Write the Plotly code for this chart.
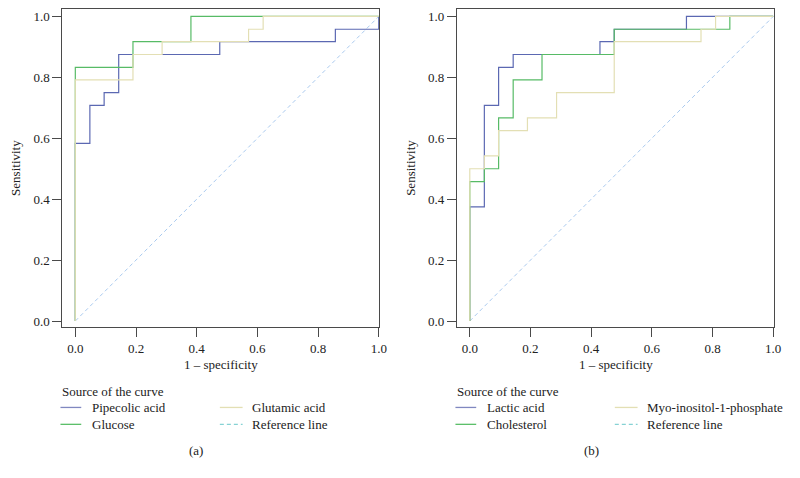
import plotly.graph_objects as go

# ---------- data (ROC operating points) ----------
names_a = ["Pipecolic acid", "Glucose", "Glutamic acid"]
fpr_pipecolic = [0.0, 0.0, 0.048, 0.095, 0.143, 0.476, 0.857, 1.0]
tpr_pipecolic = [0.0, 0.583, 0.708, 0.750, 0.875, 0.917, 0.958, 1.0]
fpr_glucose = [0.0, 0.0, 0.190, 0.381, 1.0]
tpr_glucose = [0.0, 0.833, 0.917, 1.0, 1.0]
fpr_glutamic = [0.0, 0.0, 0.190, 0.286, 0.571, 0.619, 1.0]
tpr_glutamic = [0.0, 0.792, 0.875, 0.917, 0.958, 1.0, 1.0]

names_b = ["Lactic acid", "Cholesterol", "Myo-inositol-1-phosphate"]
fpr_lactic = [0.0, 0.0, 0.048, 0.095, 0.143, 0.429, 0.476, 0.714, 1.0]
tpr_lactic = [0.0, 0.375, 0.708, 0.833, 0.875, 0.917, 0.958, 1.0, 1.0]
fpr_chol = [0.0, 0.0, 0.048, 0.095, 0.143, 0.238, 0.476, 0.857, 1.0]
tpr_chol = [0.0, 0.458, 0.500, 0.667, 0.792, 0.875, 0.958, 1.0, 1.0]
fpr_myo = [0.0, 0.0, 0.048, 0.095, 0.190, 0.286, 0.476, 0.762, 0.810, 1.0]
tpr_myo = [0.0, 0.500, 0.542, 0.625, 0.667, 0.750, 0.917, 0.958, 1.0, 1.0]

ref_x = [0.0, 1.0]
ref_y = [0.0, 1.0]
ref_name = "Reference line"

tick_vals = [0.0, 0.2, 0.4, 0.6, 0.8, 1.0]
tick_text = ["0.0", "0.2", "0.4", "0.6", "0.8", "1.0"]

# ---------- style ----------
PAGE_OFF = 8            # default body margin of the html page
W, H = 800 - PAGE_OFF, 478 - PAGE_OFF
FONT = "Liberation Serif"
FS = 13
TXT = "#222222"
C_BLUE = "#5b68b2"
C_GREEN = "#57bb66"
C_YEL = "#e3dfb4"
C_REF = "#a9c9ee"
C_REF_LEG = "#86d2d4"
LEG_BLUE = "#8088c0"
LEG_GREEN = "#5cbf6a"

def px(x):
    return (x - PAGE_OFF) / W

def py(y):
    return 1 - (y - PAGE_OFF) / H

fig = go.Figure()

panels = [
    ("x", "y", [(fpr_pipecolic, tpr_pipecolic, C_BLUE),
                (fpr_glucose, tpr_glucose, C_GREEN),
                (fpr_glutamic, tpr_glutamic, C_YEL)]),
    ("x2", "y2", [(fpr_lactic, tpr_lactic, C_BLUE),
                  (fpr_chol, tpr_chol, C_GREEN),
                  (fpr_myo, tpr_myo, C_YEL)]),
]
for xa, ya, series in panels:
    fig.add_trace(go.Scatter(x=ref_x, y=ref_y, mode="lines", xaxis=xa, yaxis=ya,
                             line=dict(color=C_REF, width=1, dash="4px,3px"),
                             showlegend=False, hoverinfo="skip"))
    for fx, ty, col in series:
        fig.add_trace(go.Scatter(x=fx, y=ty, mode="lines", xaxis=xa, yaxis=ya,
                                 line=dict(color=col, width=1.2, shape="hv"),
                                 showlegend=False))

xr = [-0.0424, 1.0015]
yr = [-0.0195, 1.0228]
ydom = [py(328), py(8.5)]

def axis_common():
    return dict(showgrid=False, zeroline=False, showline=True,
                linecolor="#4a4a4a", linewidth=1, mirror=True,
                ticks="outside", ticklen=9, tickwidth=1, tickcolor="#4a4a4a",
                tickvals=tick_vals, ticktext=tick_text,
                tickfont=dict(family=FONT, size=FS, color=TXT))

xa1 = axis_common(); xa1.update(range=xr, domain=[px(63), px(383)], anchor="y")
ya1 = axis_common(); ya1.update(range=yr, domain=ydom, anchor="x")
xa2 = axis_common(); xa2.update(range=xr, domain=[px(461.5), px(781.5)], anchor="y2")
ya2 = axis_common(); ya2.update(range=yr, domain=ydom, anchor="x2")

fig.update_layout(
    width=W, height=H, margin=dict(l=0, r=0, t=0, b=0),
    paper_bgcolor="white", plot_bgcolor="white",
    xaxis=xa1, yaxis=ya1, xaxis2=xa2, yaxis2=ya2,
    font=dict(family=FONT, size=FS, color=TXT),
)

annotations = []
shapes = []

def text(x, y, s, xanchor="left", size=FS, angle=0):
    annotations.append(dict(x=px(x), y=py(y), xref="paper", yref="paper", text=s,
                            showarrow=False, xanchor=xanchor, yanchor="middle",
                            textangle=angle,
                            font=dict(family=FONT, size=size, color=TXT)))

def legline(x0, x1, y, col, dash="solid"):
    shapes.append(dict(type="line", xref="paper", yref="paper",
                       x0=px(x0), x1=px(x1), y0=py(y), y1=py(y),
                       line=dict(color=col, width=1.3, dash=dash)))

for off, names, cap in [(0, names_a, "(a)"), (399, names_b, "(b)")]:
    # axis titles
    text(off + 223, 366, "1 – specificity", xanchor="center")
    text(off + 16, 168, "Sensitivity", xanchor="center", angle=-90)
    # legend
    text(off + 61, 393, "Source of the curve")
    legline(off + 61, off + 82, 409, LEG_BLUE)
    text(off + 91, 409, names[0])
    legline(off + 61, off + 82, 426, LEG_GREEN)
    text(off + 91, 426, names[1])
    legline(off + 222, off + 245, 409, C_YEL)
    text(off + 252, 409, names[2])
    legline(off + 222, off + 245, 426, C_REF_LEG, dash="4px,3px")
    text(off + 252, 426, ref_name)
    # caption
    text(off + 198, 452, cap, xanchor="center")

fig.update_layout(annotations=annotations, shapes=shapes)
fig.write_html("out.html")
